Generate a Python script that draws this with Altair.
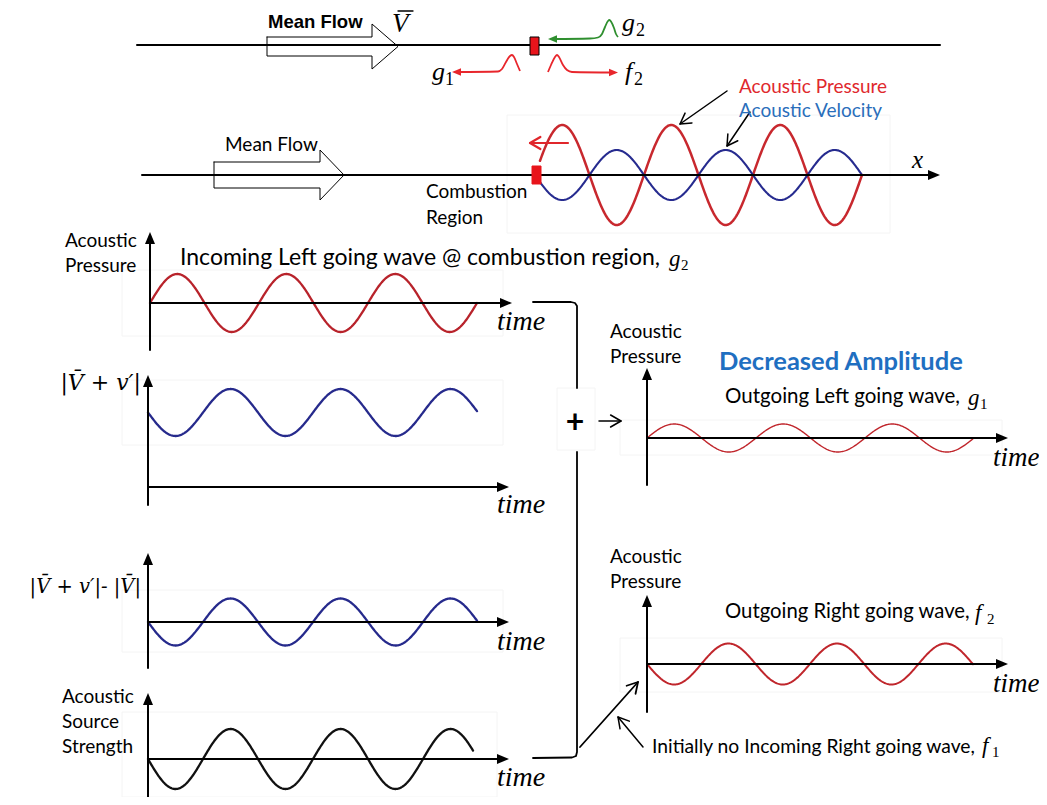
import altair as alt
import numpy as np
import pandas as pd

# ---------------- canvas (reference pixel frame) ----------------
W, H = 1031, 789
X0, Y0 = 8, 8

# ---------------- sinusoidal traces ----------------
wave_id     = ["p2_pressure", "p2_velocity", "g2_in", "v_abs", "v_fluct", "source", "g1_out", "f2_out"]
wave_xstart = [540, 540, 150, 148, 148, 148, 647, 647]
wave_xend   = [862, 862, 477, 477, 477, 473, 973, 973]
wave_phase0 = [535, 535, 150, 148, 148, 148, 647, 647]
wave_axis_y = [175, 175, 303, 412.5, 622, 759, 438, 664]
wave_amp    = [50, 25, 29, 23.5, 23.5, 30, 14, 20.5]
wave_dir    = [1, -1, 1, -1, -1, -1, 1, -1]
wave_period = [109, 109, 109, 110, 110, 110, 109, 108.6]
wave_color  = ["#c8282e", "#262b8f", "#b8232b", "#262a8c", "#262a8c", "#111111", "#c0262c", "#c0262c"]
wave_width  = [2.5, 2.1, 2.3, 2.3, 2.3, 2.3, 1.4, 2.0]

# ---------------- straight / polyline strokes ----------------
line_id = ["top_axis", "top_arrow", "v_bar", "p2_axis", "p2_arrow", "p2_red", "p2_note1", "p2_note2",
           "p3_v", "p3_h", "p4_v", "p4_h", "p5_v", "p5_h", "p6_v", "p6_h",
           "r1_v", "r1_h", "r2_v", "r2_h", "br_top", "br_bot", "plus_arrow", "to_f2", "f1_note"]
line_pts = [
    [(137, 45), (940, 45)],
    [(267, 37), (372, 37), (372, 24), (398, 46.5), (372, 69), (372, 56), (267, 56), (267, 37)],
    [(398, 11), (413, 11)],
    [(142, 175), (932, 175)],
    [(214, 162), (320, 162), (320, 150), (344, 175), (320, 200), (320, 188), (214, 188), (214, 162)],
    [(568, 143), (530, 143)],
    [(727, 91), (680, 124)],
    [(750, 112), (727, 146)],
    [(150, 350), (150, 240)], [(150, 303), (505, 303)],
    [(148, 505), (148, 383)], [(148, 487), (502, 487)],
    [(148, 668), (148, 561)], [(148, 622), (502, 622)],
    [(148, 805), (148, 701)], [(148, 759), (502, 759)],
    [(647, 485), (647, 376)], [(647, 438), (1001, 438)],
    [(647, 712), (647, 603)], [(647, 664), (1001, 664)],
    [(533, 302), (571, 302), (575, 303), (577, 306), (577, 388)],
    [(577, 452), (577, 752), (576, 756), (572, 757.5), (533, 758)],
    [(599, 421), (621, 421)],
    [(580, 747), (638, 682)],
    [(643, 747), (618, 717)],
]
line_color = ["#000000", "#000000", "#000000", "#000000", "#000000", "#e0262b", "#000000", "#000000"] + \
             ["#000000"] * 17
line_width = [2, 1, 1.3, 2, 1, 2.2, 1.5, 1.5] + [2] * 12 + [1.8, 1.8, 1.5, 1.8, 1.5]
chevron_on = ["p2_red", "p2_note1", "p2_note2", "plus_arrow", "to_f2", "f1_note"]

# ---------------- small travelling pulses (top sketch) ----------------
pulse_id = ["green_g2", "red_g1", "red_f2"]
pulse_color = ["#2f8f2f", "#e8262c", "#e8262c"]
pulse_pts = [
    [(552, 39), (590, 38.5), (598, 37.5), (602, 34), (605, 27), (608, 21), (609.5, 20), (611, 21.5), (614, 28), (616, 34), (618, 37)],
    [(456, 72), (498, 71.5), (502, 69), (506, 62), (510, 56), (512, 55), (514, 57), (517, 64), (520, 71)],
    [(548, 72), (551, 65), (555, 57), (557, 55), (559, 57), (563, 65), (567, 70), (572, 72), (614, 72.5)],
]

# ---------------- filled arrow heads ----------------
head_x = [548, 452, 618, 940, 150, 512, 148, 509, 148, 509, 148, 509, 647, 1008, 647, 1008]
head_y = [39, 72, 72.5, 175, 232, 303, 375, 487, 553, 622, 693, 759, 368, 438, 595, 664]
head_angle = [270, 270, 90, 90, 0, 90, 0, 90, 0, 90, 0, 90, 0, 90, 0, 90]
head_color = ["#2f8f2f", "#e8262c", "#e8262c"] + ["#000000"] * 13
head_size = [56, 56, 56] + [100] * 13

# ---------------- red blocks (combustion region) ----------------
block_x = [530, 532]
block_x2 = [539, 541]
block_y = [37, 166]
block_y2 = [55, 184]
block_stroke = ["#000000", "#e8141b"]

# ---------------- faint image frames ----------------
frame_x = [507, 122, 122, 122, 122, 557, 620, 620]
frame_x2 = [890, 503, 503, 503, 497, 595, 1002, 1002]
frame_y = [115, 270, 380, 590, 712, 388, 420, 638]
frame_y2 = [233, 336, 445, 652, 797, 450, 455, 692]

# ---------------- texts ----------------
sans_text = ["Mean Flow", "Combustion", "Region", "Acoustic Pressure", "Acoustic Velocity",
             "Acoustic", "Pressure", "Incoming Left going wave @ combustion region,",
             "Acoustic", "Pressure", "Outgoing Left going wave,",
             "Acoustic", "Pressure", "Outgoing Right going wave,",
             "Initially no Incoming Right going wave,",
             "Acoustic", "Source", "Strength"]
sans_x = [225, 426, 426, 739, 739, 65, 65, 180, 610, 610, 725, 610, 610, 725, 652, 62, 62, 62]
sans_y = [145, 192, 218, 87, 111, 241, 266, 258, 332, 357, 397, 557, 582, 612, 747, 697, 722, 747]
sans_size = [19, 19, 19, 19, 19, 19, 19, 23, 19, 19, 20.5, 19, 19, 20.3, 19.3, 19, 19, 19]
sans_color = ["#000000"] * 3 + ["#e0282d", "#2a6ebb"] + ["#000000"] * 13

bold_text = ["Decreased Amplitude"]
bold_x = [719]
bold_y = [362]
bold_size = [25.5]
bold_color = ["#1f6fc1"]

plus_text = ["+"]
plus_x = [575]
plus_y = [423]

italic_text = ["time", "time", "time", "time", "time", "time", "V", "g", "g", "f", "x",
               "g", "g", "f", "f"]
italic_x = [497, 497, 497, 497, 993, 993, 392, 622, 432, 625, 912, 669, 968, 975, 982]
italic_y = [322, 505, 642, 778, 458, 684, 24, 23, 72, 72, 160, 259, 398, 613, 746]
italic_size = [28, 28, 28, 28, 27, 27, 27, 26, 26, 26, 25, 23, 23, 23, 23]

sub_text = ["2", "1", "2", "2", "1", "2", "1"]
sub_x = [636, 445, 634, 681, 980, 987, 992]
sub_y = [31, 80, 80, 265, 404, 619, 752]
sub_size = [18, 18, 18, 15, 15, 15, 15]

math_text = ["|V\u0304 + v\u2032|", "|V\u0304 + v\u2032|- |V\u0304|"]
math_x = [141, 141]
math_y = [383, 587]
math_size = [22, 19.5]

# =================== build tables ===================
def chevron(tail, tip, length=12, ang=30):
    tx, ty = tip
    dx, dy = tip[0] - tail[0], tip[1] - tail[1]
    n = np.hypot(dx, dy)
    ux, uy = -dx / n, -dy / n
    out = []
    for s in (1, -1):
        a = np.radians(ang * s)
        rx = ux * np.cos(a) - uy * np.sin(a)
        ry = ux * np.sin(a) + uy * np.cos(a)
        out.append((tx + length * rx, ty + length * ry))
    return [out[0], tip, out[1]]

rows = []
for i, wid in enumerate(wave_id):
    xs_ = np.linspace(wave_xstart[i], wave_xend[i], 400)
    ys_ = wave_axis_y[i] - wave_dir[i] * wave_amp[i] * np.sin(2 * np.pi * (xs_ - wave_phase0[i]) / wave_period[i])
    for k, (a, b) in enumerate(zip(xs_, ys_)):
        rows.append(dict(id="w_" + wid, ord=k, x=a, y=b, color=wave_color[i], sw=wave_width[i]))
for i, lid in enumerate(line_id):
    for k, (a, b) in enumerate(line_pts[i]):
        rows.append(dict(id=lid, ord=k, x=a, y=b, color=line_color[i], sw=line_width[i]))
    if lid in chevron_on:
        pts = line_pts[i]
        for k, (a, b) in enumerate(chevron(pts[0], pts[-1])):
            rows.append(dict(id=lid + "_head", ord=k, x=a, y=b, color=line_color[i], sw=line_width[i]))
lines_df = pd.DataFrame(rows)

prow = []
for i, pid in enumerate(pulse_id):
    for k, (a, b) in enumerate(pulse_pts[i]):
        prow.append(dict(id=pid, ord=k, x=a, y=b, color=pulse_color[i]))
pulse_df = pd.DataFrame(prow)

heads_df = pd.DataFrame(dict(x=head_x, y=head_y, angle=head_angle, color=head_color, size=head_size))
blocks_df = pd.DataFrame(dict(x=block_x, x2=block_x2, y=block_y, y2=block_y2, stroke=block_stroke))
frames_df = pd.DataFrame(dict(x=frame_x, x2=frame_x2, y=frame_y, y2=frame_y2))
sans_df = pd.DataFrame(dict(text=sans_text, x=sans_x, y=sans_y, size=sans_size, color=sans_color))
bold_df = pd.DataFrame(dict(text=bold_text, x=bold_x, y=bold_y, size=bold_size, color=bold_color))
plus_df = pd.DataFrame(dict(text=plus_text, x=plus_x, y=plus_y))
ital_df = pd.DataFrame(dict(text=italic_text, x=italic_x, y=italic_y, size=italic_size))
sub_df = pd.DataFrame(dict(text=sub_text, x=sub_x, y=sub_y, size=sub_size))
math_df = pd.DataFrame(dict(text=math_text, x=math_x, y=math_y, size=math_size))
topbold_df = pd.DataFrame(dict(text=["Mean Flow"], x=[268], y=[22]))

xsc = alt.Scale(domain=[X0, X0 + W], nice=False, zero=False)
ysc = alt.Scale(domain=[Y0, Y0 + H], reverse=True, nice=False, zero=False)
X = alt.X("x:Q", scale=xsc, axis=None)
Y = alt.Y("y:Q", scale=ysc, axis=None)

frames = alt.Chart(frames_df).mark_rect(fill=None, stroke="#f4f4f4", strokeWidth=1).encode(
    x=X, x2="x2:Q", y=Y, y2="y2:Q")

lines = alt.Chart(lines_df).mark_line(strokeCap="round", strokeJoin="round").encode(
    x=X, y=Y, detail="id:N", order="ord:Q",
    color=alt.Color("color:N", scale=None),
    strokeWidth=alt.StrokeWidth("sw:Q", scale=None))

pulses = alt.Chart(pulse_df).mark_line(interpolate="monotone", strokeWidth=1.8).encode(
    x=X, y=Y, detail="id:N", order="ord:Q", color=alt.Color("color:N", scale=None))

heads = alt.Chart(heads_df).mark_point(
    filled=True, opacity=1, strokeWidth=0, shape="M0,0L1,2.4L-1,2.4Z").encode(
    x=X, y=Y, angle=alt.Angle("angle:Q", scale=None),
    color=alt.Color("color:N", scale=None), size=alt.Size("size:Q", scale=None))

blocks = alt.Chart(blocks_df).mark_rect(fill="#e8141b", strokeWidth=1).encode(
    x=X, x2="x2:Q", y=Y, y2="y2:Q", stroke=alt.Stroke("stroke:N", scale=None))

sans = alt.Chart(sans_df).mark_text(font="Lato", align="left", baseline="middle").encode(
    x=X, y=Y, text="text:N", size=alt.Size("size:Q", scale=None), color=alt.Color("color:N", scale=None))

bold = alt.Chart(bold_df).mark_text(font="Lato", fontWeight="bold", align="left", baseline="middle").encode(
    x=X, y=Y, text="text:N", size=alt.Size("size:Q", scale=None), color=alt.Color("color:N", scale=None))

plus = alt.Chart(plus_df).mark_text(font="Lato", fontWeight="bold", fontSize=32, align="center",
                                    baseline="middle", color="#000000").encode(x=X, y=Y, text="text:N")

topbold = alt.Chart(topbold_df).mark_text(font="Liberation Sans", fontWeight="bold", fontSize=18.5, align="left", baseline="middle").encode(
    x=X, y=Y, text="text:N")

ital = alt.Chart(ital_df).mark_text(font="Liberation Serif", fontStyle="italic", align="left",
                                    baseline="middle", color="#000000").encode(
    x=X, y=Y, text="text:N", size=alt.Size("size:Q", scale=None))

subs = alt.Chart(sub_df).mark_text(font="Liberation Serif", align="left", baseline="middle", color="#000000").encode(
    x=X, y=Y, text="text:N", size=alt.Size("size:Q", scale=None))

math = alt.Chart(math_df).mark_text(font="DejaVu Serif", fontStyle="italic", align="right", baseline="middle", color="#000000").encode(
    x=X, y=Y, text="text:N", size=alt.Size("size:Q", scale=None))

chart = alt.layer(frames, lines, pulses, heads, blocks, sans, bold, plus, topbold, ital, subs, math).properties(
    width=W, height=H, padding=0,
    autosize=alt.AutoSizeParams(type="none"),
    background="white",
).configure_view(stroke=None)

chart.save("out.html", embed_options={"renderer": "svg", "actions": False})
